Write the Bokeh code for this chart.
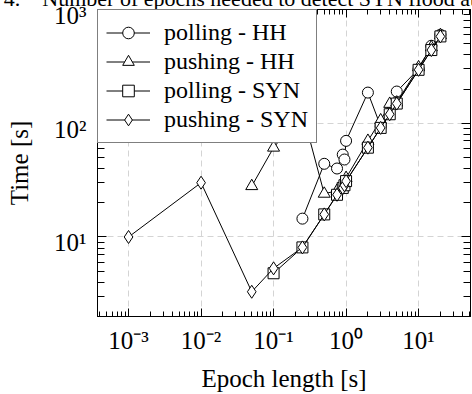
from bokeh.plotting import figure
from bokeh.models import Range1d, LogAxis, FixedTicker, LogScale
from bokeh.embed import file_html
from bokeh.resources import INLINE

# ---------------- data ----------------
x_ticks = [1e-3, 1e-2, 1e-1, 1e0, 1e1]
x_tick_labels = ["10⁻³", "10⁻²", "10⁻¹", "10⁰", "10¹"]
y_ticks = [1e1, 1e2, 1e3]
y_tick_labels = ["10¹", "10²", "10³"]

polling_hh_x = [0.25, 0.5, 0.75, 0.9, 0.95, 1, 2, 3, 5, 10, 15, 20]
polling_hh_y = [14.5, 44, 40, 53, 48, 70, 186, 94, 190, 300, 480, 600]

pushing_hh_x = [0.05, 0.1, 0.25, 0.5, 0.75, 0.9, 0.95, 1, 2, 3, 4, 5, 10, 15, 20]
pushing_hh_y = [28, 61, 125, 24, 25.5, 28, 30, 33, 70, 106, 148, 152, 310, 465, 595]

polling_syn_x = [0.1, 0.25, 0.5, 0.75, 0.9, 0.95, 1, 2, 3, 4, 5, 10, 15, 20]
polling_syn_y = [4.8, 8.1, 15.8, 23.5, 27, 28.5, 31, 61, 91, 120, 149, 295, 440, 580]

pushing_syn_x = [0.001, 0.01, 0.05, 0.1, 0.25, 0.5, 0.75, 0.9, 0.95, 1, 2, 3, 4, 5, 10, 15, 20]
pushing_syn_y = [10, 30, 3.3, 5.3, 8.1, 15.8, 23.5, 27, 28.5, 31, 61, 91, 120, 149, 295, 440, 580]

series = [
    ("polling - HH", polling_hh_x, polling_hh_y, "circle", 11),
    ("pushing - HH", pushing_hh_x, pushing_hh_y, "triangle", 12),
    ("polling - SYN", polling_syn_x, polling_syn_y, "square", 11),
    ("pushing - SYN", pushing_syn_x, pushing_syn_y, "diamond", 13),
]

caption = "Fig. 4.\u2003Number of epochs needed to detect SYN flood attacks"
x_label = "Epoch length [s]"
y_label = "Time [s]"

FONT = "Liberation Serif"

x_minor = [m * 10.0 ** e for e in range(-4, 2) for m in range(2, 10)]
y_minor = [m * 10.0 ** e for e in range(0, 3) for m in range(2, 10)]

Y_LO, Y_HI = 2.0, 1000.0
# y tick labels sit a few pixels below their ticks (the "10" of "10^n"
# is lower than the tick, as in the reference): a shifted label range
LABEL_DROP = 10 ** (6 / 114.1)

# The page caption sits above the chart and is cut by the window's top edge
# (as in the reference): the figure is shifted up by SHIFT pixels.
SHIFT = 27
p = figure(width=472, height=394 + SHIFT, x_axis_type="log", y_axis_type="log",
           x_range=Range1d(3.73e-4, 52), y_range=Range1d(Y_LO, Y_HI),
           output_backend="svg", toolbar_location=None,
           min_border_left=97, min_border_right=2, min_border_top=9 + SHIFT,
           min_border_bottom=77)
p.styles = {"margin-top": f"-{SHIFT}px"}
p.background_fill_color = "white"
p.border_fill_color = "white"
p.outline_line_color = "black"
p.outline_line_width = 1

p.title.text = caption
p.title.align = "left"
p.title.offset = -134
p.title.standoff = -3
p.title.text_font = FONT
p.title.text_font_size = "22px"
p.title.text_font_style = "normal"
p.title.text_color = "black"

xt = FixedTicker(ticks=x_ticks, minor_ticks=x_minor)
yt = FixedTicker(ticks=y_ticks, minor_ticks=y_minor)

xa = p.xaxis[0]
ya = p.yaxis[0]
xa.ticker = xt
ya.ticker = yt
xa.major_label_overrides = dict(zip(x_ticks, x_tick_labels))

for ax, tin, mtin in ((xa, 8, 5), (ya, 9, 7)):
    ax.major_tick_in = tin
    ax.major_tick_out = 0
    ax.minor_tick_in = mtin
    ax.minor_tick_out = 0
    ax.axis_line_color = "black"
    ax.major_tick_line_color = "black"
    ax.minor_tick_line_color = "black"

xa.major_label_text_font = FONT
xa.major_label_text_font_size = "25px"
xa.major_label_text_color = "black"
xa.axis_label = x_label
xa.axis_label_text_font = FONT
xa.axis_label_text_font_size = "25px"
xa.axis_label_text_font_style = "normal"
xa.axis_label_text_color = "black"
xa.major_label_standoff = 10
xa.axis_label_standoff = 8

# main left axis: ticks only
ya.major_label_text_font_size = "1px"
ya.major_label_text_color = None
ya.major_label_standoff = 0

# left axis carrying the y tick labels and the y axis label
p.extra_y_ranges = {"lab": Range1d(Y_LO * LABEL_DROP, Y_HI * LABEL_DROP)}
p.extra_y_scales = {"lab": LogScale()}
lab_axis = LogAxis(y_range_name="lab",
                   ticker=FixedTicker(ticks=y_ticks, minor_ticks=[]),
                   major_label_overrides=dict(zip(y_ticks, y_tick_labels)),
                   major_tick_in=0, major_tick_out=0, minor_tick_in=0, minor_tick_out=0,
                   axis_line_color=None, major_tick_line_color=None,
                   minor_tick_line_color=None,
                   major_label_text_font=FONT, major_label_text_font_size="25px",
                   major_label_text_color="black", major_label_standoff=11,
                   axis_label=y_label, axis_label_text_font=FONT,
                   axis_label_text_font_size="25px", axis_label_text_font_style="normal",
                   axis_label_text_color="black", axis_label_standoff=18)
p.add_layout(lab_axis, "left")

# mirrored tick axes (top and right), without labels
top = LogAxis(ticker=FixedTicker(ticks=x_ticks, minor_ticks=x_minor),
              major_tick_in=8, major_tick_out=0, minor_tick_in=5, minor_tick_out=0,
              major_label_text_font_size="1px", major_label_text_color=None,
              major_label_standoff=0, axis_line_color="black")
right = LogAxis(ticker=FixedTicker(ticks=y_ticks, minor_ticks=y_minor),
                major_tick_in=9, major_tick_out=0, minor_tick_in=7, minor_tick_out=0,
                major_label_text_font_size="1px", major_label_text_color=None,
                major_label_standoff=0, axis_line_color="black")
p.add_layout(top, "above")
p.add_layout(right, "right")

for g in (p.xgrid[0], p.ygrid[0]):
    g.grid_line_color = "#d4d4d4"
    g.grid_line_dash = "6 4"
    g.grid_line_width = 1
p.xgrid[0].ticker = xt
p.ygrid[0].ticker = yt

for name, xs, ys, marker, size in series:
    p.line(xs, ys, line_color="black", line_width=1, legend_label=name)
    p.scatter(xs, ys, marker=marker, size=size, fill_color="white",
              line_color="black", line_width=1, legend_label=name)

lg = p.legend[0]
lg.location = "top_left"
lg.margin = 0
lg.padding = 8
lg.spacing = 0
lg.glyph_width = 44
lg.glyph_height = 29
lg.label_height = 29
lg.label_standoff = 14
lg.label_text_font = FONT
lg.label_text_font_size = "24px"
lg.label_text_color = "black"
lg.border_line_color = "black"
lg.border_line_width = 1
lg.background_fill_color = "white"
lg.background_fill_alpha = 1.0

open("out.html", "w").write(file_html(p, INLINE))
